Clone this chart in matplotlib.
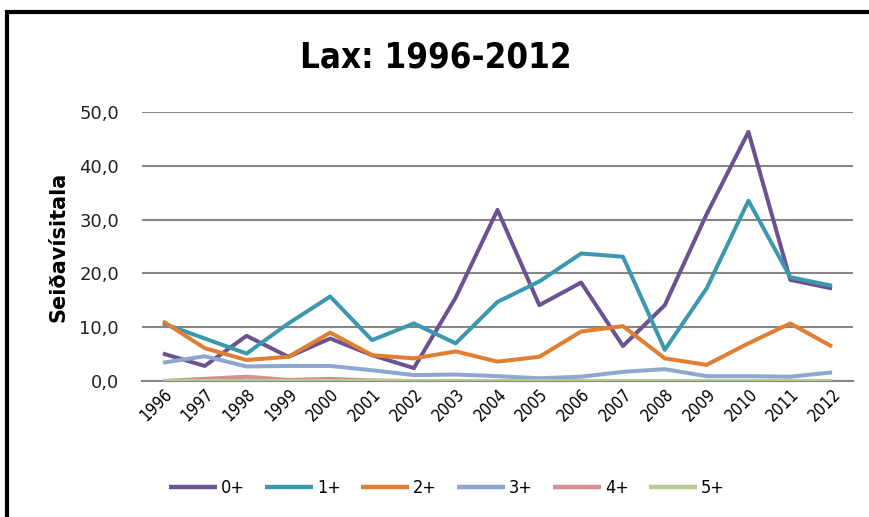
import matplotlib
matplotlib.use("Agg")
import matplotlib.pyplot as plt
from matplotlib.patches import Rectangle

years = [str(y) for y in range(1996, 2013)]
s0 = [5.1, 2.8, 8.4, 4.5, 7.9, 4.8, 2.4, 15.5, 31.8, 14.1, 18.3, 6.5, 14.1, 31.0, 46.3, 18.8, 17.2]
s1 = [10.7, 7.9, 5.1, 10.7, 15.7, 7.6, 10.7, 7.0, 14.7, 18.5, 23.7, 23.1, 5.8, 17.2, 33.5, 19.3, 17.7]
s2 = [11.1, 6.1, 3.9, 4.5, 9.0, 4.8, 4.2, 5.5, 3.6, 4.5, 9.2, 10.2, 4.2, 3.0, 7.0, 10.7, 6.4]
s3 = [3.4, 4.6, 2.7, 2.8, 2.8, 2.0, 1.1, 1.2, 0.9, 0.5, 0.8, 1.7, 2.2, 0.9, 0.9, 0.8, 1.6]
s4 = [0.0, 0.4, 0.8, 0.2, 0.4, 0.1, 0.0, 0.0, 0.0, 0.0, 0.0, 0.0, 0.0, 0.0, 0.0, 0.0, 0.0]
s5 = [0.0] * 17
series = [s0, s1, s2, s3, s4, s5]
names = ["0+", "1+", "2+", "3+", "4+", "5+"]
colors = ["#6B5392", "#3C98AE", "#E07E31", "#8EA7CF", "#D29292", "#B5CA92"]
yticks = [0, 10, 20, 30, 40, 50]
ytick_labels = ["0,0", "10,0", "20,0", "30,0", "40,0", "50,0"]

W, H = 870, 517
fig = plt.figure(figsize=(W / 100, H / 100), dpi=100)
ax = fig.add_axes([142 / W, 1 - 381 / H, (853 - 142) / W, (381 - 112) / H])

x = list(range(len(years)))
for i, (vals, nm, c) in enumerate(zip(series, names, colors)):
    ax.plot(x, vals, color=c, lw=2.9, label=nm, zorder=3 + i, solid_capstyle="butt")

ax.set_xlim(-0.5, len(years) - 0.5)
ax.set_ylim(0, 50)
ax.set_yticks(yticks)
ax.set_yticklabels(ytick_labels, fontsize=13, color="#222222")
ax.set_xticks(x)
ax.set_xticklabels(years, rotation=45, ha="right", va="top", rotation_mode="anchor",
                   fontsize=12, fontstretch="condensed")
ax.tick_params(axis="y", length=0, pad=16.5)
ax.tick_params(axis="x", length=0, pad=3)
ax.yaxis.grid(True, color="#868686", lw=1.5)
ax.set_axisbelow(True)
for sp in ["left", "right", "top"]:
    ax.spines[sp].set_visible(False)
ax.spines["bottom"].set_color("#868686")
ax.spines["bottom"].set_linewidth(1.5)
ax.spines["bottom"].set_zorder(1)

ax.set_ylabel("Seiðavísitala", fontsize=15, fontweight="bold", labelpad=8)

fig.text(436 / W, 1 - 57 / H, "Lax: 1996-2012", ha="center", va="center",
         fontsize=25, fontweight="bold", fontstretch="condensed")

leg = fig.legend(loc="center", bbox_to_anchor=(447 / W, 1 - 488 / H), ncol=6, frameon=False,
                 handlelength=2.67, handletextpad=0.22, columnspacing=1.1,
                 prop={"size": 13, "stretch": "condensed"})
for ln in leg.get_lines():
    ln.set_linewidth(3.2)

fig.patches.append(Rectangle((7 / W, -0.2), 1.2, 1.2 - 12 / H, transform=fig.transFigure,
                             fill=False, lw=3, edgecolor="black", clip_on=False))

fig.savefig("out.png", dpi=100)
